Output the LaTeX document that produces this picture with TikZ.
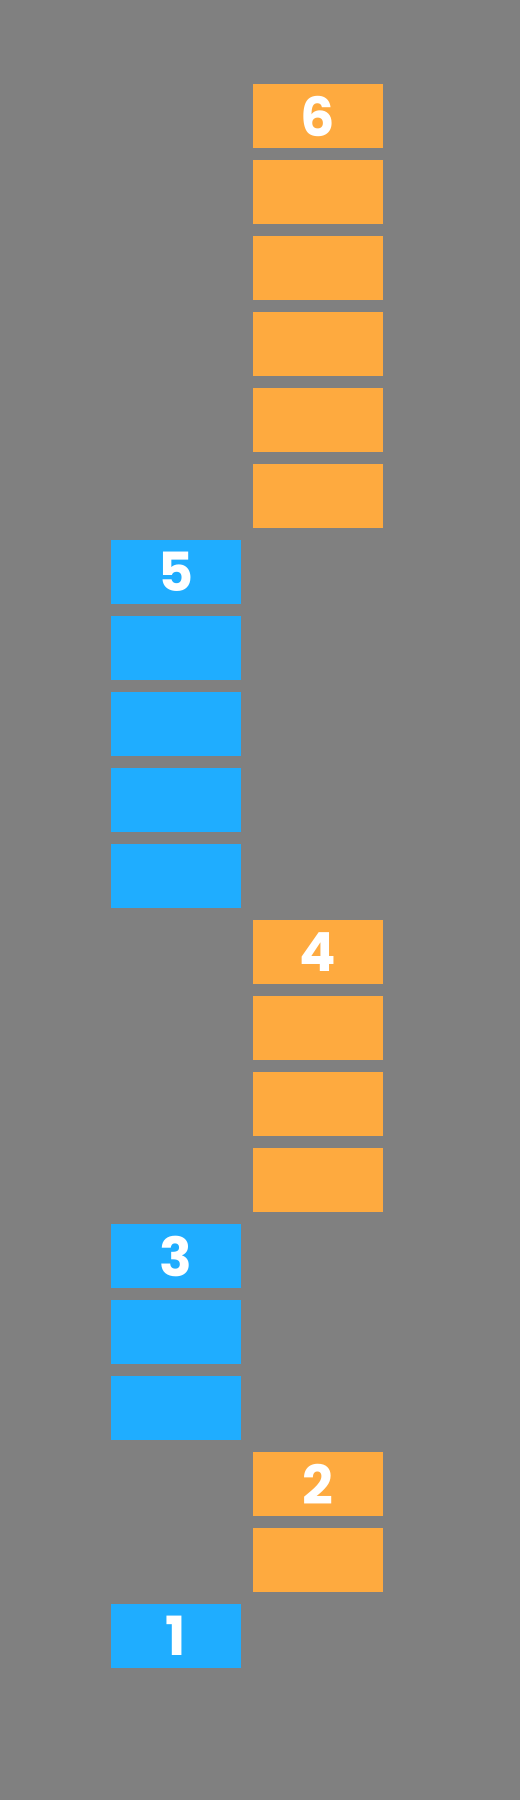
\documentclass[tikz,border=0pt]{standalone}
\usepackage{fontspec}
\setmainfont{Poppins}
\definecolor{bggray}{HTML}{808080}
\definecolor{barorange}{HTML}{FEAA3F}
\definecolor{barblue}{HTML}{1FADFF}
\tikzset{
  bar/.style={minimum width=130pt,minimum height=64pt,inner sep=0pt,
    text=white,font=\fontsize{54}{54}\selectfont\bfseries},
  orangebar/.style={bar,fill=barorange},
  bluebar/.style={bar,fill=barblue}
}
\begin{document}
\begin{tikzpicture}[x=1pt,y=-1pt]
  \fill[bggray] (0,0) rectangle (520,1800);
  \useasboundingbox (0,0) rectangle (520,1800);
  % six
  \node[orangebar] (six1) at (318, 116) {6};
  \node[orangebar] (six2) at (318, 192) {};
  \node[orangebar] (six3) at (318, 268) {};
  \node[orangebar] (six4) at (318, 344) {};
  \node[orangebar] (six5) at (318, 420) {};
  \node[orangebar] (six6) at (318, 496) {};
  % five
  \node[bluebar] (five1) at (176, 572) {5};
  \node[bluebar] (five2) at (176, 648) {};
  \node[bluebar] (five3) at (176, 724) {};
  \node[bluebar] (five4) at (176, 800) {};
  \node[bluebar] (five5) at (176, 876) {};
  % four
  \node[orangebar] (four1) at (318, 952) {4};
  \node[orangebar] (four2) at (318,1028) {};
  \node[orangebar] (four3) at (318,1104) {};
  \node[orangebar] (four4) at (318,1180) {};
  % three
  \node[bluebar] (three1) at (176,1256) {3};
  \node[bluebar] (three2) at (176,1332) {};
  \node[bluebar] (three3) at (176,1408) {};
  % two
  \node[orangebar] (two1) at (318,1484) {2};
  \node[orangebar] (two2) at (318,1560) {};
  % one
  \node[bluebar] (one1) at (176,1636) {1};
\end{tikzpicture}
\end{document}
